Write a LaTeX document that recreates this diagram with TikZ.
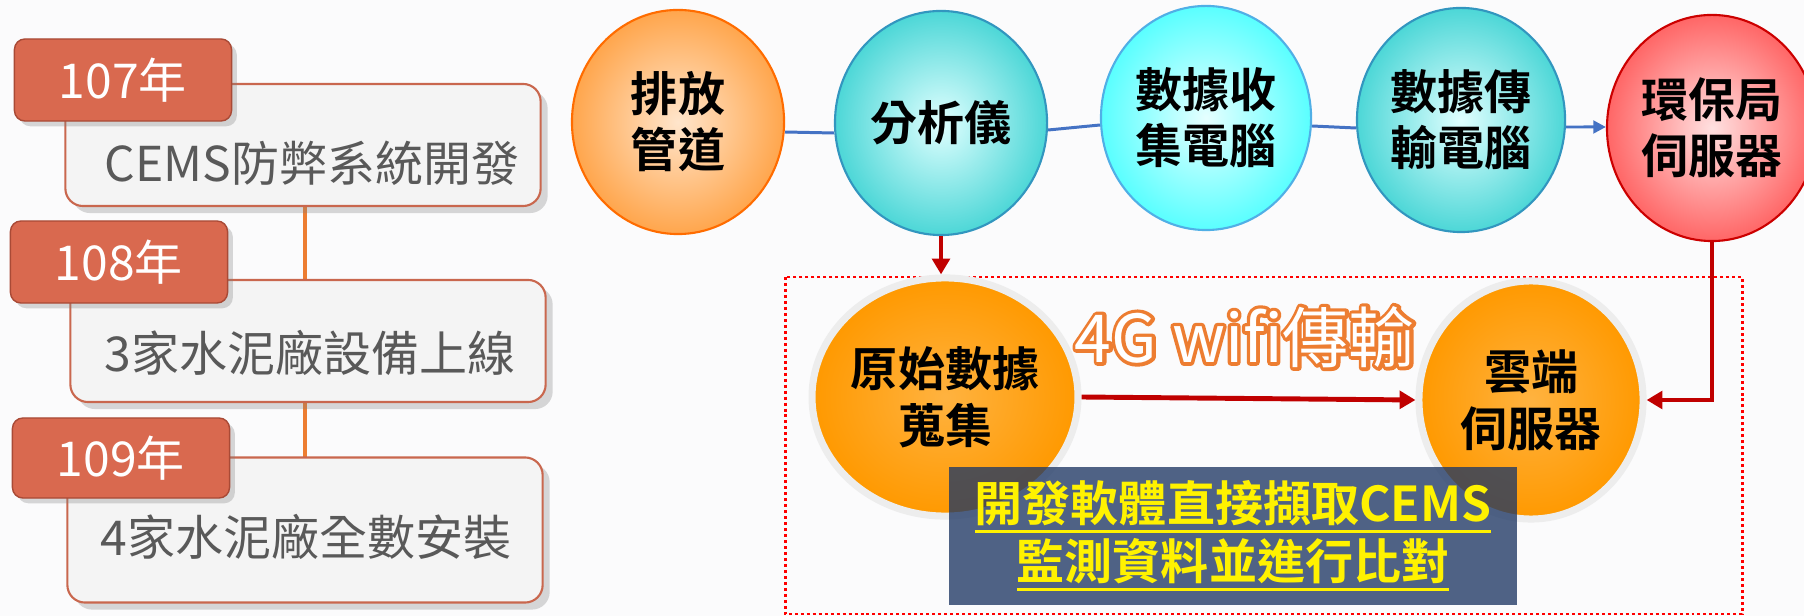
\documentclass[tikz,border=0pt]{standalone}
\usepackage{fontspec}
\usetikzlibrary{shapes.geometric,arrows.meta,shadows,backgrounds}
\newfontfamily\cjk{Noto Sans CJK TC}[BoldFont={Noto Sans CJK TC Bold}]
\definecolor{bgcol}{HTML}{FBFBFC}
\definecolor{yearred}{HTML}{D9694F}
\definecolor{yearedge}{HTML}{A94A36}
\definecolor{notefill}{HTML}{F4F4F4}
\definecolor{noteedge}{HTML}{C9674E}
\definecolor{notegray}{HTML}{595959}
\definecolor{timeline}{HTML}{ED7D31}
\definecolor{flowblue}{HTML}{4472C4}
\definecolor{flowred}{HTML}{C00000}
\definecolor{ballorange}{HTML}{FF9900}
\definecolor{infoblue}{HTML}{1F3864}
\definecolor{wifiorange}{HTML}{ED7D31}
\newcommand\yellowline[1]{\vtop{\hbox{#1}\kern1pt\hrule height 1.1pt}}
\newcommand\outlinetext[1]{\rlap{\textcolor{wifiorange}{\special{pdf:literal direct 0.929 0.49 0.192 RG 1 Tr 2 w 1 j}#1\special{pdf:literal direct 0 Tr}}}\textcolor{white}{#1}}
\begin{document}
\begin{tikzpicture}[x=0.01cm,y=-0.01cm,
    yearbox/.style={draw=yearedge, fill=yearred, rounded corners=3pt, minimum width=2.17cm, minimum height=0.82cm,
      drop shadow={opacity=0.3, shadow xshift=1.5pt, shadow yshift=-1.5pt},
      text=white, font=\cjk\fontsize{13.66}{16}\selectfont},
    notebox/.style={draw=noteedge, line width=0.6pt, fill=notefill, rounded corners=5pt, minimum width=4.75cm, minimum height=1.22cm,
      drop shadow={opacity=0.3, shadow xshift=2pt, shadow yshift=-2pt}},
    notetext/.style={text=notegray, font=\cjk\fontsize{13.66}{16}\selectfont},
    bubble/.style={ellipse, line width=0.6pt, minimum width=2.12cm, minimum height=2.24cm, inner sep=0pt, align=center,
      font=\cjk\bfseries\fontsize{13.37}{15.9}\selectfont},
    ball/.style={ellipse, draw=black!7, line width=2pt, inner color=ballorange!75!white, outer color=ballorange,
      minimum width=2.24cm, minimum height=2.38cm, inner sep=0pt, align=center,
      font=\cjk\bfseries\fontsize{13.37}{16.2}\selectfont},
    flow/.style={flowblue, line width=0.85pt},
    redflow/.style={flowred, line width=1.4pt, -{Triangle[length=4.5pt,width=5pt]}},
  ]
  \begin{pgfonlayer}{background}
    \fill[bgcol] (0,0) rectangle (1804,616);
  \end{pgfonlayer}
  \useasboundingbox (0,0) rectangle (1804,616);

  \draw[timeline, line width=0.9pt] (305,190) -- (305,460);

  \node[notebox] (b1) at (303,145) {};
  \node[notebox] (b2) at (308,341) {};
  \node[notebox, minimum height=1.45cm] (b3) at (305,530) {};
  \node[notetext] (t1) at (312,163) {CEMS防弊系統開發};
  \node[notetext] (t2) at (310,353) {3家水泥廠設備上線};
  \node[notetext] (t3) at (306,537) {4家水泥廠全數安裝};
  \node[yearbox] (y1) at (123,80) {107年};
  \node[yearbox] (y2) at (119,262) {108年};
  \node[yearbox, minimum height=0.8cm] (y3) at (121,458) {109年};

  \node[bubble, draw=orange!85!red, inner color=orange!20!white, outer color=orange!70!white] (pipe) at (678,122) {排放\\管道};
  \node[bubble, draw=cyan!50!teal, inner color=cyan!12!white, outer color=cyan!55!teal!70!white] (analyzer) at (941,123) {分析儀};
  \node[bubble, draw=cyan!80!blue!70, inner color=cyan!10!white, outer color=cyan!65!white, minimum width=2.1cm] (collect) at (1206,118) {數據收\\集電腦};
  \node[bubble, draw=cyan!50!teal, inner color=cyan!12!white, outer color=cyan!55!teal!70!white, minimum width=2.08cm] (transfer) at (1461,120) {數據傳\\輸電腦};
  \node[bubble, draw=red!80!black, inner color=red!12!white, outer color=red!60!white, minimum width=2.1cm, minimum height=2.26cm] (epb) at (1712,128) {環保局\\伺服器};

  \draw[flow] ([yshift=-0.1cm]pipe.east) -- ([yshift=-0.1cm]analyzer.west);
  \draw[flow] ([yshift=-0.07cm]analyzer.east) -- ([yshift=-0.07cm]collect.west);
  \draw[flow] ([yshift=-0.08cm]collect.east) -- ([yshift=-0.08cm]transfer.west);
  \draw[flow, -{Triangle[length=3.6pt,width=3.6pt]}] ([yshift=-0.07cm]transfer.east) -- (epb.west |- 0,127);

  \draw[red, line width=0.85pt, dash pattern=on 0.85pt off 0.85pt] (785,277) rectangle (1742,614);

  \node[ball] (raw) at (945,397) {原始數據\\蒐集};
  \node[ball] (cloud) at (1531,400) {雲端\\伺服器};

  \node (wifi) at (1245,337) {\cjk\fontsize{18.8}{20}\selectfont\outlinetext{4G wifi傳輸}};

  \draw[redflow] (analyzer.south) -- (analyzer.south |- raw.north);
  \draw[redflow] (raw.east) -- (cloud.west);
  \draw[redflow] (epb.south) |- (cloud.east);

  \node[fill=infoblue, fill opacity=0.78, text opacity=1, text=yellow, minimum width=5.68cm, minimum height=1.37cm, align=center,
    font=\cjk\bfseries\fontsize{13.66}{16.5}\selectfont] (info) at (1233,536)
    {\yellowline{開發軟體直接擷取CEMS}\\\yellowline{監測資料並進行比對}};
\end{tikzpicture}
\end{document}
